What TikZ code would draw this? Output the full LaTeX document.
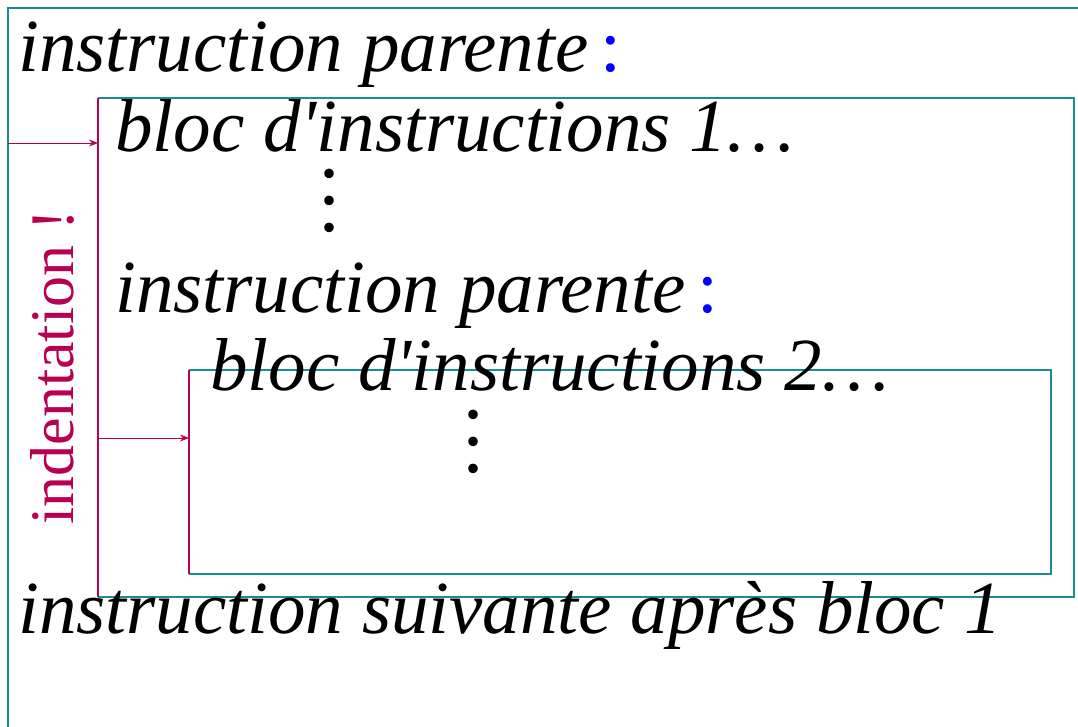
\documentclass[tikz,border=0pt]{standalone}
\usepackage{fontspec}
\newfontfamily\tms{Liberation Serif}
\usetikzlibrary{arrows.meta}
\definecolor{tealc}{RGB}{30,140,140}
\definecolor{crim}{RGB}{185,0,80}
\newcommand{\threedots}{\vbox{\baselineskip=27pt\lineskiplimit=-100pt\lineskip=0pt\hbox{.}\hbox{.}\hbox{.}}}
\begin{document}
\begin{tikzpicture}[x=1pt,y=-1pt,
  txt/.style={anchor=base west, inner sep=0pt, font=\tms\fontsize{75}{80}\selectfont\itshape},
  vdots/.style={anchor=base, inner sep=0pt, font=\tms\fontsize{80}{27}\selectfont},
  frame/.style={draw=tealc, line width=1.5pt},
  indentline/.style={draw=crim, line width=1.5pt},
  arr/.style={draw=crim, line width=0.8pt, -{Stealth[length=9pt,width=7pt]}},
  lbl/.style={inner sep=0pt, text=crim, rotate=90, font=\tms\fontsize{62}{66}\selectfont}]
\useasboundingbox (0,0) rectangle (1078,727);
\clip (0,0) rectangle (1078,727);
% outer frame (only left and top visible)
\draw[frame, line width=2pt] (8,760) -- (8,8) -- (1100,8);
% block 1
\draw[frame] (98,98) -- (1074,98) -- (1074,597) -- (98,597);
\draw[indentline] (98,98) -- (98,597);
% block 2
\draw[frame] (189,370) -- (1051,370) -- (1051,574) -- (189,574);
\draw[indentline] (189,370) -- (189,574);
% arrows
\coordinate (a1s) at (8,143);
\coordinate (a1e) at (98,143);
\coordinate (a2s) at (98,438);
\coordinate (a2e) at (189,438);
\draw[arr] (a1s) -- (a1e);
\draw[arr] (a2s) -- (a2e);
% label
\node[lbl] (ind) at (52,367) {indentation !};
% texts
\node[txt] (t1) at (18,72) {instruction parente\,{\upshape\color{blue}:}};
\node[txt] (t2) at (115,152) {bloc d'instructions 1…};
\node[vdots] (d1) at (329,232) {\threedots};
\node[txt] (t3) at (115,312) {instruction parente\,{\upshape\color{blue}:}};
\node[txt] (t4) at (210,390) {bloc d'instructions 2…};
\node[vdots] (d2) at (473,472) {\threedots};
\node[txt] (t5) at (18,633) {instruction suivante après bloc 1};
\end{tikzpicture}
\end{document}
